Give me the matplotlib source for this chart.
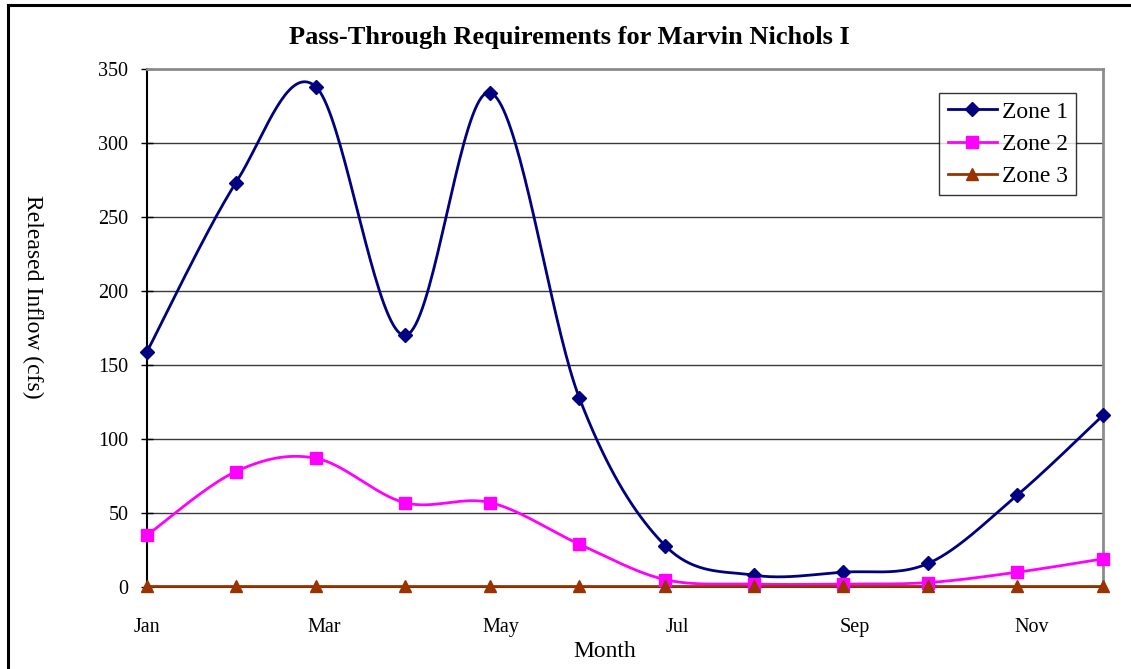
import numpy as np
import matplotlib
matplotlib.use("Agg")
import matplotlib.pyplot as plt
from matplotlib.patches import Rectangle

plt.rcParams['font.family'] = ['Liberation Serif', 'DejaVu Serif']

# Monthly pass-through values (cfs), one point on the first of each month
months = ['Jan', 'Feb', 'Mar', 'Apr', 'May', 'Jun',
          'Jul', 'Aug', 'Sep', 'Oct', 'Nov', 'Dec']
day_of_year = [0, 31, 59, 90, 120, 151, 181, 212, 243, 273, 304, 334]
zone1 = [159, 273, 338, 170, 334, 128, 28, 8, 10, 16, 62, 116]
zone2 = [35, 78, 87, 57, 57, 29, 5, 2, 2, 3, 10, 19]
zone3 = [1, 1, 1, 1, 1, 1, 1, 1, 1, 1, 1, 1]
y_ticks = [0, 50, 100, 150, 200, 250, 300, 350]
x_tick_labels = ['Jan', 'Mar', 'May', 'Jul', 'Sep', 'Nov']
x_tick_days = np.linspace(0, 309, len(x_tick_labels))


def smooth(x, y, n=40):
    """Bezier smoothing through every point (spreadsheet-style smoothed line)."""
    pts = np.column_stack([x, y]).astype(float)
    last = len(pts) - 1
    t = np.linspace(0, 1, n)[:, None]
    segs = []
    for i in range(last):
        p0 = pts[max(i - 1, 0)]
        p1 = pts[i]
        p2 = pts[i + 1]
        p3 = pts[min(i + 2, last)]
        c1 = p1 + (p2 - p0) / 6.0
        c2 = p2 - (p3 - p1) / 6.0
        seg = ((1 - t) ** 3) * p1 + 3 * ((1 - t) ** 2) * t * c1 \
            + 3 * (1 - t) * t ** 2 * c2 + t ** 3 * p2
        segs.append(seg if i == 0 else seg[1:])
    curve = np.vstack(segs)
    return curve[:, 0], curve[:, 1]


fig = plt.figure(figsize=(11.31, 6.69), dpi=100)
ax = fig.add_axes([147 / 1131, 82 / 669, 956 / 1131, 518 / 669])

series = [
    ('Zone 1', zone1, '#000080', 'D', 7),
    ('Zone 2', zone2, '#FF00FF', 's', 8),
    ('Zone 3', zone3, '#993300', '^', 9),
]
for label, vals, color, marker, ms in series:
    sx, sy = smooth(day_of_year, vals)
    ax.plot(sx, sy, color=color, lw=2, zorder=3, clip_on=False)
    ax.plot(day_of_year, vals, linestyle='none', marker=marker, ms=ms,
            color=color, zorder=4, clip_on=False)
    ax.plot([], [], color=color, lw=2, marker=marker, ms=ms, label=label)

ax.set_xlim(0, 334)
ax.set_ylim(0, 350)
ax.set_yticks(y_ticks)
ax.set_xticks(x_tick_days)
ax.set_xticklabels(x_tick_labels)
ax.tick_params(axis='x', length=0, pad=22, labelsize=14.5)
ax.tick_params(axis='y', direction='inout', length=8, width=1, pad=9.5, labelsize=14.5)

ax.yaxis.grid(True, color='#3a3a3a', lw=1)
ax.set_axisbelow(True)
for side in ('top', 'right'):
    ax.spines[side].set_color('#8c8c8c')
    ax.spines[side].set_linewidth(2)
ax.spines['left'].set_linewidth(1.5)
ax.spines['bottom'].set_linewidth(1.5)

ax.set_title('Pass-Through Requirements for Marvin Nichols I',
             fontsize=19, fontweight='bold', pad=18, x=0.442)
ax.set_xlabel('Month', fontsize=17, va='center')
ax.xaxis.set_label_coords(0.479, -0.125)
ax.set_ylabel('Released Inflow (cfs)', fontsize=17, rotation=270,
              va='center', ha='center')
ax.yaxis.set_label_coords(-0.12, 0.56)

leg = ax.legend(loc='upper right', bbox_to_anchor=(0.972, 0.954), fontsize=17,
                frameon=True, fancybox=False, edgecolor='black',
                handlelength=2.1, handletextpad=0.2, borderpad=0.35,
                labelspacing=0.45, borderaxespad=0)
leg.get_frame().set_linewidth(1)

# Chart-area frame, open on the right and bottom
fig.patches.append(Rectangle((8 / 1131, -0.1), 1.2, 1.1 - 5 / 669,
                             transform=fig.transFigure, fill=False,
                             edgecolor='black', lw=2.2, zorder=10))

fig.savefig('out.png', dpi=100)
